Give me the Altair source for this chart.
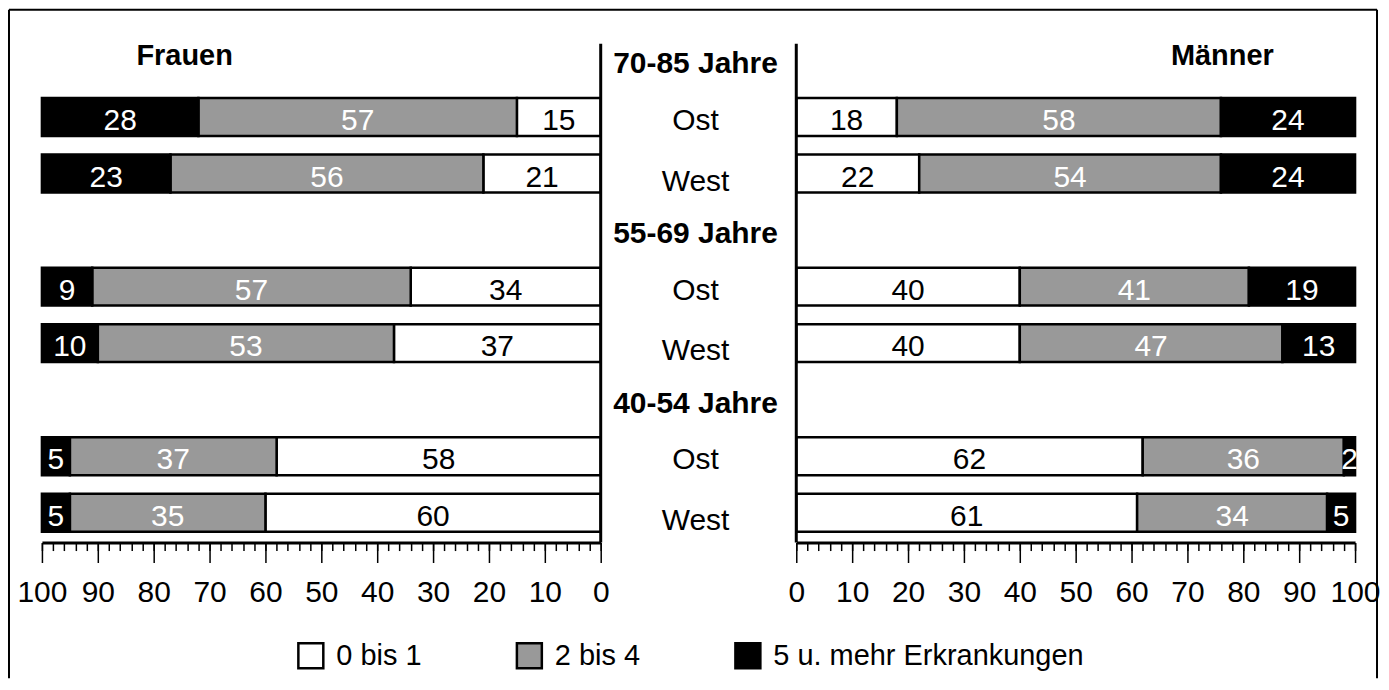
import altair as alt
import pandas as pd

# ---------------- data ----------------
groups = ["70-85 Jahre", "55-69 Jahre", "40-54 Jahre"]
regions = ["Ost", "West"]
categories = ["0 bis 1", "2 bis 4", "5 u. mehr Erkrankungen"]
cat_colors = ["#ffffff", "#999999", "#000000"]

# order of bars: 70-85 Ost, 70-85 West, 55-69 Ost, 55-69 West, 40-54 Ost, 40-54 West
frauen_0_1 = [15, 21, 34, 37, 58, 60]
frauen_2_4 = [57, 56, 57, 53, 37, 35]
frauen_5plus = [28, 23, 9, 10, 5, 5]

maenner_0_1 = [18, 22, 40, 40, 62, 61]
maenner_2_4 = [58, 54, 41, 47, 36, 34]
maenner_5plus = [24, 24, 19, 13, 2, 5]

major_ticks = list(range(0, 101, 10))
minor_ticks = list(range(0, 101, 2))

# ---------------- tables ----------------
row_order = []
label_recs = []
for g in groups:
    row_order.append(g)
    label_recs.append({"row": g, "text": g, "kind": "header"})
    for r in regions:
        row_order.append(f"{g} {r}")
        label_recs.append({"row": f"{g} {r}", "text": r, "kind": r})
labels_df = pd.DataFrame(label_recs)


def long_table(series):
    recs = []
    i = 0
    for g in groups:
        for r in regions:
            for k, (c, vals) in enumerate(zip(categories, series)):
                recs.append({"row": f"{g} {r}", "cat": c, "ord": k, "value": vals[i]})
            i += 1
    return pd.DataFrame(recs)


df_f = long_table([frauen_0_1, frauen_2_4, frauen_5plus])
df_m = long_table([maenner_0_1, maenner_2_4, maenner_5plus])
one = pd.DataFrame({"k": [0]})

# ---------------- layout constants ----------------
W = 560
H = 510
MW = 196
FONT = "Liberation Sans"

yscale = alt.Scale(domain=row_order, range=[-1.5, H - 1.5], paddingInner=0.33, paddingOuter=0.165)

legend = alt.Legend(
    title=None,
    orient="none",
    legendX=255,
    legendY=609,
    direction="horizontal",
    columns=3,
    symbolType="square",
    symbolSize=625,
    symbolStrokeColor="black",
    symbolStrokeWidth=2.5,
    labelFont=FONT,
    labelFontSize=29,
    labelColor="black",
    labelOffset=11,
    columnPadding=90,
    labelLimit=0,
)


def panel(df, reverse, title, title_x, frame=False):
    xs = alt.Scale(domain=[0, 100], reverse=reverse, nice=False, zero=True)
    main_axis = alt.Axis(
        values=major_ticks, orient="bottom", tickSize=20, tickWidth=1.5,
        tickColor="black", domainWidth=3, domainColor="black",
        labelFont=FONT, labelFontSize=30, labelColor="black",
        labelPadding=15, grid=False, title=None, labelFlush=False,
        labelOverlap=False, format="d",
    )
    minor_axis = alt.Axis(
        values=minor_ticks, orient="bottom", tickSize=8, tickWidth=1.5,
        tickColor="black", labels=False, domain=False, grid=False, title=None,
    )
    base = alt.Chart(df).transform_stack(
        stack="value", groupby=["row"], as_=["v0", "v1"],
        sort=[alt.SortField("ord", order="ascending")],
    )
    bars = base.mark_bar(stroke="black", strokeWidth=2.5).encode(
        x=alt.X("v0:Q", scale=xs, axis=main_axis),
        x2="v1:Q",
        y=alt.Y("row:N", scale=yscale, axis=None, sort=row_order),
        color=alt.Color("cat:N", scale=alt.Scale(domain=categories, range=cat_colors), legend=legend),
    )
    txt = base.transform_calculate(mid="(datum.v0 + datum.v1) / 2")
    txt_dark = txt.transform_filter(alt.datum.cat == categories[0]).mark_text(
        font=FONT, fontSize=30, color="black", baseline="middle", dy=4
    ).encode(
        x=alt.X("mid:Q", scale=xs, axis=None),
        y=alt.Y("row:N", scale=yscale, axis=None, sort=row_order),
        text="value:Q",
    )
    txt_light = txt.transform_filter(alt.datum.cat != categories[0]).mark_text(
        font=FONT, fontSize=30, color="white", baseline="middle", dy=4
    ).encode(
        x=alt.X("mid:Q", scale=xs, axis=None),
        y=alt.Y("row:N", scale=yscale, axis=None, sort=row_order),
        text="value:Q",
    )
    vline = alt.Chart(one).mark_rule(color="black", strokeWidth=3).encode(
        x=alt.X(datum=0, scale=xs, axis=minor_axis),
        y=alt.value(10),
        y2=alt.value(H),
    )
    ttl = alt.Chart(one).mark_text(
        font=FONT, fontSize=29, fontWeight="bold", color="black", baseline="middle"
    ).encode(x=alt.value(title_x), y=alt.value(22), text=alt.value(title))
    layers = [bars, txt_dark, txt_light, vline, ttl]
    if frame:
        layers += [
            alt.Chart(one).mark_rule(color="black", strokeWidth=2).encode(
                x=alt.value(-33), y=alt.value(-24), y2=alt.value(646)),
            alt.Chart(one).mark_rule(color="black", strokeWidth=2).encode(
                x=alt.value(-33), x2=alt.value(1338), y=alt.value(-24)),
            alt.Chart(one).mark_rule(color="black", strokeWidth=2).encode(
                x=alt.value(1338), y=alt.value(-24), y2=alt.value(646)),
        ]
    return alt.layer(*layers).resolve_axis(x="independent").properties(width=W, height=H)


left = panel(df_f, True, "Frauen", 143, frame=True)
right = panel(df_m, False, "Männer", 427)

mid_base = alt.Chart(labels_df)
mid_layers = []
for kind, weight, dy in [("header", "bold", 4), ("Ost", "normal", 4), ("West", "normal", 8)]:
    mid_layers.append(
        mid_base.transform_filter(alt.datum.kind == kind).mark_text(
            font=FONT, fontSize=30, fontWeight=weight, color="black", baseline="middle", dy=dy
        ).encode(
            x=alt.value(MW / 2 - 3),
            y=alt.Y("row:N", scale=yscale, axis=None, sort=row_order),
            text="text:N",
        )
    )
middle = alt.layer(*mid_layers).properties(width=MW, height=H)

chart = alt.hconcat(left, middle, right, spacing=0, bounds="flush").properties(
    padding=0
).configure(
    font=FONT, background="white"
).configure_view(stroke="transparent", strokeWidth=0)

chart.save("out.html", embed_options={"renderer": "svg", "actions": False})
